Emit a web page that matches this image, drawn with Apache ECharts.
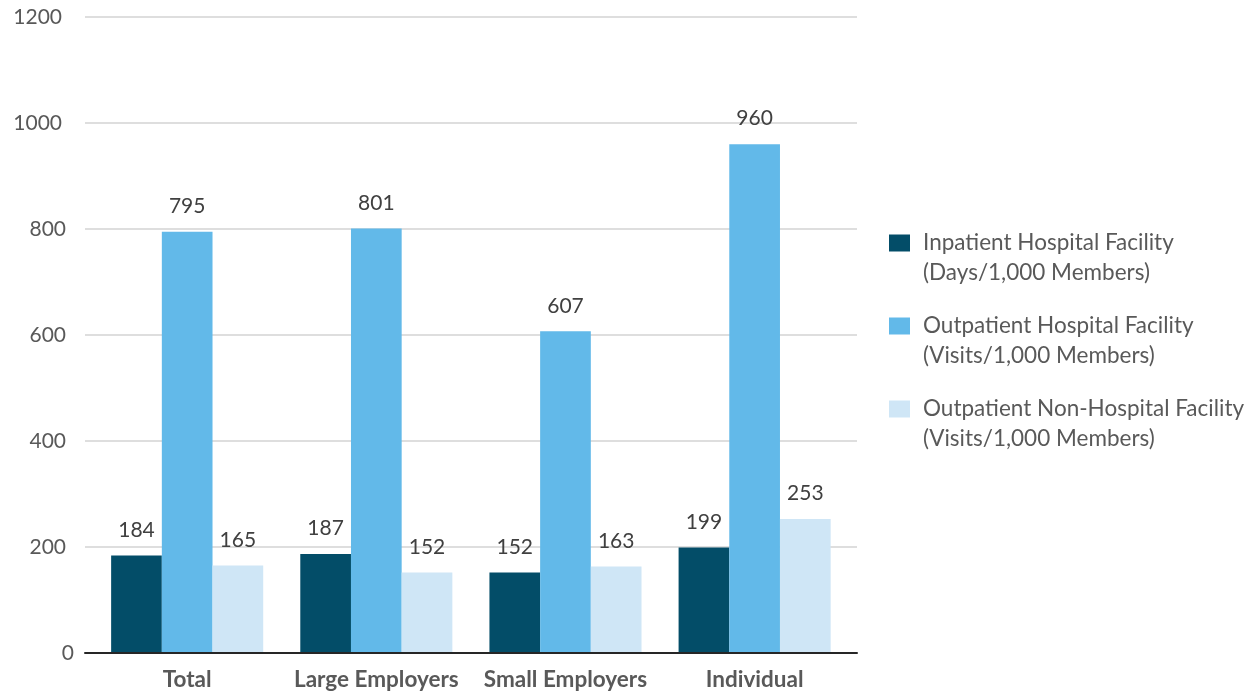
<!DOCTYPE html>
<html>
<head>
<meta charset="utf-8">
<script src="https://cdn.jsdelivr.net/npm/echarts@6/dist/echarts.min.js"></script>
<style>
  html, body { margin: 0; padding: 0; background: #ffffff; }
  #chart { width: 1255px; height: 691px; }
</style>
</head>
<body>
<div id="chart"></div>
<script>
// Facility utilization per 1,000 members by market segment
const categories = ['Total', 'Large Employers', 'Small Employers', 'Individual'];
const seriesNames = [
  'Inpatient Hospital Facility\n(Days/1,000 Members)',
  'Outpatient Hospital Facility\n(Visits/1,000 Members)',
  'Outpatient Non-Hospital Facility\n(Visits/1,000 Members)'
];
const inpatientDays = [184, 187, 152, 199];
const outpatientHospitalVisits = [795, 801, 607, 960];
const outpatientNonHospitalVisits = [165, 152, 163, 253];
const yTicks = [0, 200, 400, 600, 800, 1000, 1200];

const colors = ['#034d68', '#62b9e9', '#cfe6f6'];
const FONT = 'Lato, "Open Sans", sans-serif';
const Y_MIN = yTicks[0];
const Y_MAX = yTicks[yTicks.length - 1];
const Y_STEP = yTicks[1] - yTicks[0];

function barSeries(name, data, color) {
  return {
    name: name,
    type: 'bar',
    xAxisIndex: 1,
    yAxisIndex: 1,
    data: data,
    barGap: '0%',
    barCategoryGap: '19.6%',
    itemStyle: { color: color },
    label: {
      show: true,
      position: 'top',
      distance: 15,
      color: '#404040',
      fontFamily: FONT,
      fontSize: 21
    }
  };
}

const chart = echarts.init(document.getElementById('chart'), null, { renderer: 'canvas' });
chart.setOption({
  animation: false,
  color: colors,
  // grid 0 carries the gridlines and baseline, grid 1 the bar groups
  grid: [
    { left: 85, right: 398, top: 17, bottom: 38 },
    { left: 92.6, right: 405.8, top: 17, bottom: 38 }
  ],
  legend: {
    orient: 'vertical',
    left: 889,
    top: 198,
    padding: 0,
    itemWidth: 21,
    itemHeight: 17,
    itemGap: -7,
    icon: 'rect',
    selectedMode: false,
    formatter: function (name) { return '\n' + name; },
    textStyle: {
      color: '#595959',
      fontFamily: FONT,
      fontSize: 22.5,
      lineHeight: 30,
      padding: [0, 0, 0, 8]
    },
    data: seriesNames
  },
  xAxis: [
    {
      gridIndex: 0,
      type: 'category',
      data: categories,
      z: 5,
      axisTick: { show: false },
      axisLabel: { show: false },
      axisLine: { lineStyle: { color: '#262626', width: 2 } }
    },
    {
      gridIndex: 1,
      type: 'category',
      data: categories,
      axisTick: { show: false },
      axisLine: { show: false },
      axisLabel: {
        interval: 0,
        margin: 15,
        color: '#595959',
        fontFamily: FONT,
        fontWeight: 'bold',
        fontSize: 22.5
      }
    }
  ],
  yAxis: [
    {
      gridIndex: 0,
      type: 'value',
      min: Y_MIN,
      max: Y_MAX,
      interval: Y_STEP,
      axisLine: { show: false },
      axisTick: { show: false },
      splitLine: { lineStyle: { color: '#dedede', width: 2 } },
      axisLabel: {
        margin: 11,
        color: '#595959',
        fontFamily: FONT,
        fontSize: 21,
        formatter: function (v) {
          if (v === 0) return '{z|0}';
          if (v >= 1000) return '{w|' + v + '}';
          return '{n|' + v + '}';
        },
        rich: {
          z: { fontFamily: FONT, fontSize: 21, color: '#595959' },
          n: { fontFamily: FONT, fontSize: 21, color: '#595959', padding: [0, 8, 0, 0] },
          w: { fontFamily: FONT, fontSize: 21, color: '#595959', padding: [0, 12, 0, 0] }
        }
      }
    },
    {
      gridIndex: 1,
      type: 'value',
      min: Y_MIN,
      max: Y_MAX,
      interval: Y_STEP,
      show: false,
      splitLine: { show: false }
    }
  ],
  series: [
    barSeries(seriesNames[0], inpatientDays, colors[0]),
    barSeries(seriesNames[1], outpatientHospitalVisits, colors[1]),
    barSeries(seriesNames[2], outpatientNonHospitalVisits, colors[2])
  ]
});
</script>
</body>
</html>
